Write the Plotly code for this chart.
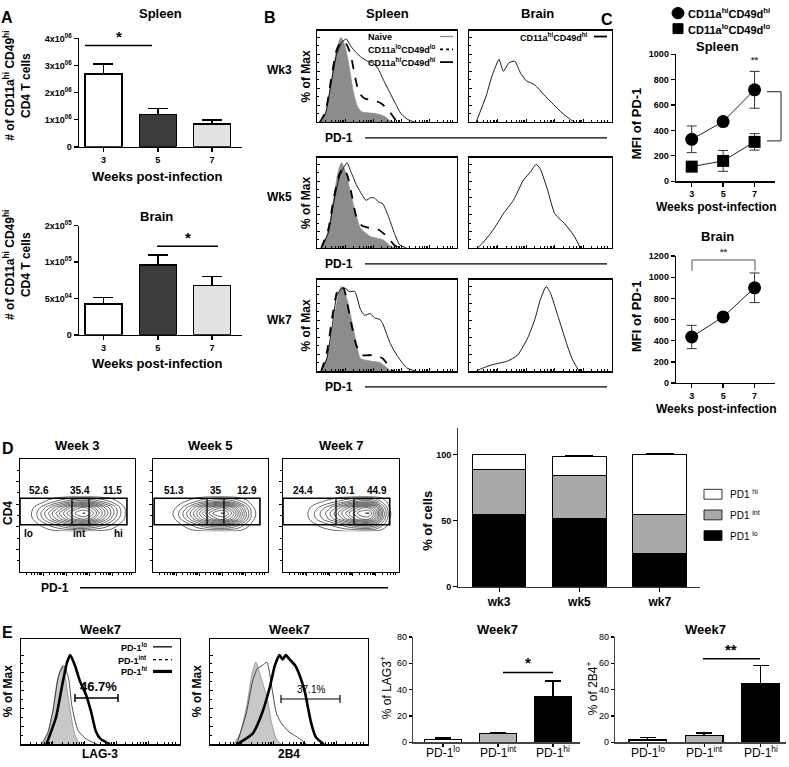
import plotly.graph_objects as go

W, H = 789, 767
FONT = "Liberation Sans, Arial, Helvetica, sans-serif"
NARROW = "Liberation Sans Narrow, Liberation Sans, Arial, sans-serif"

# ---------------- DATA ----------------
# Panel A
A_WEEKS = ["3", "5", "7"]
A_SPLEEN = [2.69e6, 1.20e6, 0.84e6]
A_SPLEEN_ERR = [0.36e6, 0.22e6, 0.14e6]
A_SPLEEN_TICKS = [0, 1e6, 2e6, 3e6, 4e6]
A_SPLEEN_TICKTEXT = ["0", "1x10<sup>06</sup>", "2x10<sup>06</sup>", "3x10<sup>06</sup>", "4x10<sup>06</sup>"]
A_BRAIN = [4.2e4, 9.6e4, 6.8e4]          # read on the lower (linear) segment of the axis
A_BRAIN_ERR = [0.9e4, 1.36e4, 1.17e4]
A_BRAIN_TICKS = [0, 5e4, 1e5, 1.5e5]
A_BRAIN_TICKTEXT = ["0", "5x10<sup>04</sup>", "1x10<sup>05</sup>", "2x10<sup>05</sup>"]
A_COLORS = ["white", "#3c3c3c", "#e2e2e2"]

# Panel B histograms (x = fraction of the PD-1 axis, y = % of max)
B_GRAY = [
    ([0.02, 0.06, 0.10, 0.14, 0.17, 0.20, 0.23, 0.26, 0.29, 0.32, 0.36, 0.42, 0.48, 0.52, 0.56],
     [0, 10, 45, 85, 100, 90, 65, 35, 18, 12, 11, 10, 7, 2, 0]),
    ([0.03, 0.08, 0.12, 0.15, 0.175, 0.20, 0.22, 0.27, 0.31, 0.38, 0.47, 0.53, 0.57],
     [0, 20, 60, 90, 102, 92, 80, 45, 24, 14, 10, 2, 0]),
    ([0.03, 0.08, 0.12, 0.15, 0.175, 0.20, 0.22, 0.27, 0.31, 0.38, 0.45, 0.50, 0.53],
     [0, 20, 58, 88, 100, 92, 81, 42, 15, 12, 10, 4, 0]),
]
B_LO = [
    ([0.02, 0.06, 0.10, 0.14, 0.18, 0.21, 0.24, 0.27, 0.30, 0.34, 0.40, 0.46, 0.52, 0.56, 0.60],
     [0, 12, 50, 85, 96, 92, 80, 55, 35, 28, 26, 22, 12, 3, 0]),
    ([0.03, 0.08, 0.12, 0.16, 0.19, 0.22, 0.25, 0.28, 0.32, 0.38, 0.44, 0.50, 0.55, 0.59],
     [0, 22, 60, 88, 96, 85, 62, 38, 27, 24, 22, 14, 4, 0]),
    ([0.03, 0.07, 0.11, 0.14, 0.165, 0.19, 0.235, 0.28, 0.32, 0.40, 0.47, 0.52, 0.55],
     [0, 22, 65, 92, 100, 98, 64, 31, 19, 19, 15, 4, 0]),
]
B_HI = [
    ([0.02, 0.06, 0.10, 0.14, 0.18, 0.21, 0.24, 0.28, 0.32, 0.36, 0.40, 0.44, 0.48, 0.52, 0.56, 0.60, 0.65, 0.70],
     [0, 10, 45, 80, 95, 98, 90, 82, 76, 72, 70, 62, 48, 35, 22, 10, 3, 0]),
    ([0.03, 0.08, 0.12, 0.16, 0.19, 0.215, 0.24, 0.26, 0.28, 0.31, 0.35, 0.38, 0.41, 0.44, 0.47, 0.51, 0.55, 0.59, 0.64],
     [0, 18, 55, 85, 96, 102, 92, 84, 76, 67, 57, 60, 60, 55, 53, 38, 19, 4, 0]),
    ([0.03, 0.07, 0.11, 0.14, 0.17, 0.20, 0.23, 0.27, 0.31, 0.34, 0.38, 0.41, 0.45, 0.47, 0.52, 0.57, 0.64, 0.71],
     [0, 15, 55, 88, 97, 98, 94, 94, 73, 66, 68, 63, 61, 56, 34, 19, 4, 0]),
]
B_BRAIN = [
    ([0.05, 0.12, 0.16, 0.21, 0.24, 0.28, 0.32, 0.36, 0.40, 0.46, 0.52, 0.59, 0.65, 0.71, 0.74],
     [0, 31, 54, 74, 60, 70, 72, 58, 49, 44, 33, 21, 11, 3, 0]),
    ([0.06, 0.12, 0.17, 0.24, 0.31, 0.38, 0.43, 0.47, 0.50, 0.55, 0.60, 0.67, 0.73, 0.78],
     [0, 11, 22, 41, 57, 81, 91, 100, 94, 69, 41, 29, 16, 0]),
    ([0.05, 0.10, 0.17, 0.27, 0.34, 0.41, 0.46, 0.50, 0.54, 0.57, 0.62, 0.68, 0.72, 0.77],
     [0, 4, 8, 12, 19, 39, 61, 85, 100, 92, 66, 34, 15, 0]),
]
B_ROWS = ["Wk3", "Wk5", "Wk7"]
FLOW_MAJOR = [0.2, 0.4, 0.6, 0.8]
FLOW_MINOR = [0.06, 0.1, 0.13, 0.15, 0.17, 0.18, 0.19, 0.26, 0.3, 0.33, 0.35, 0.37, 0.38, 0.39,
              0.46, 0.5, 0.53, 0.55, 0.57, 0.58, 0.59, 0.66, 0.7, 0.73, 0.75, 0.77, 0.78, 0.79,
              0.86, 0.9, 0.93, 0.95, 0.97]

# Panel C
C_WEEKS = [3, 5, 7]
C_SPL_HI = [330, 470, 720]
C_SPL_HI_ERR = [105, 30, 145]
C_SPL_LO = [115, 160, 310]
C_SPL_LO_ERR = [15, 82, 65]
C_BRAIN = [435, 625, 900]
C_BRAIN_ERR = [110, 12, 140]

# Panel D contours
D_TITLES = ["Week 3", "Week 5", "Week 7"]
D_PCT = [["52.6", "35.4", "11.5"], ["51.3", "35", "12.9"], ["24.4", "30.1", "44.9"]]
D_GRID_X = [0.02, 0.08, 0.14, 0.2, 0.26, 0.32, 0.38, 0.44, 0.5, 0.56, 0.62, 0.68, 0.74, 0.8, 0.86, 0.92, 0.98]
D_GRID_Y = [0.36, 0.42, 0.47, 0.52, 0.57, 0.62, 0.67]
D_Z = [
    [[0, 0, 0, 0, 0.2, 0.3, 0.4, 0.5, 0.5, 0.5, 0.4, 0.3, 0.2, 0.1, 0, 0, 0],
     [0, 0, 0.3, 0.8, 1.5, 2.2, 3, 3.8, 4.2, 4.2, 3.6, 2.8, 2, 1.2, 0.5, 0.1, 0],
     [0, 0.1, 0.9, 2, 3.2, 4.4, 5.6, 6.8, 7.8, 8.2, 7.2, 5.6, 4, 2.5, 1.2, 0.3, 0],
     [0, 0.2, 1.1, 2.4, 3.8, 5.2, 6.6, 8, 9.2, 9.6, 8.6, 6.8, 5, 3.2, 1.6, 0.4, 0],
     [0, 0.1, 0.7, 1.6, 2.7, 3.9, 5.1, 6.4, 7.6, 8, 7.2, 5.8, 4.2, 2.8, 1.4, 0.3, 0],
     [0, 0, 0.1, 0.4, 0.9, 1.5, 2.1, 2.8, 3.4, 3.6, 3.2, 2.5, 1.8, 1.1, 0.4, 0, 0],
     [0, 0, 0, 0, 0, 0.1, 0.2, 0.3, 0.4, 0.4, 0.3, 0.2, 0.1, 0, 0, 0, 0]],
    [[0, 0, 0, 0, 0, 0.2, 0.3, 0.4, 0.5, 0.5, 0.5, 0.4, 0.3, 0.1, 0, 0, 0],
     [0, 0, 0, 0.2, 0.6, 1.2, 2, 2.8, 3.6, 4, 4, 3.4, 2.4, 1.2, 0.3, 0, 0],
     [0, 0, 0, 0.6, 1.6, 2.8, 4.2, 5.6, 7, 8, 8.2, 7, 5, 2.8, 0.8, 0, 0],
     [0, 0, 0.1, 0.8, 2, 3.4, 5, 6.8, 8.4, 9.4, 9.6, 8.2, 5.8, 3.2, 1, 0.1, 0],
     [0, 0, 0, 0.5, 1.3, 2.4, 3.8, 5.2, 6.6, 7.6, 7.8, 6.6, 4.6, 2.5, 0.7, 0, 0],
     [0, 0, 0, 0.1, 0.4, 0.8, 1.4, 2, 2.6, 3, 3.1, 2.6, 1.8, 0.9, 0.2, 0, 0],
     [0, 0, 0, 0, 0, 0, 0.1, 0.2, 0.3, 0.3, 0.3, 0.2, 0.1, 0, 0, 0, 0]],
    [[0, 0, 0, 0, 0, 0.1, 0.2, 0.3, 0.4, 0.5, 0.5, 0.5, 0.4, 0.3, 0.1, 0, 0],
     [0, 0, 0, 0, 0.3, 0.7, 1.1, 1.6, 2.2, 2.9, 3.6, 4.2, 4.2, 3.2, 1.4, 0.2, 0],
     [0, 0, 0, 0.2, 0.9, 1.7, 2.6, 3.6, 4.8, 6, 7.2, 8.2, 8.2, 6.2, 2.8, 0.5, 0],
     [0, 0, 0, 0.3, 1.1, 2, 3, 4.2, 5.6, 7, 8.4, 9.4, 9.6, 7.4, 3.4, 0.6, 0],
     [0, 0, 0, 0.2, 0.7, 1.4, 2.2, 3.2, 4.4, 5.6, 6.8, 7.8, 7.8, 6, 2.6, 0.4, 0],
     [0, 0, 0, 0, 0.2, 0.4, 0.7, 1.1, 1.6, 2.2, 2.8, 3.3, 3.4, 2.5, 1, 0.1, 0],
     [0, 0, 0, 0, 0, 0, 0, 0.1, 0.2, 0.2, 0.3, 0.3, 0.3, 0.2, 0.1, 0, 0]],
]
D_GATE = [[0.0, 0.93, 0.452, 0.60], [0.01, 0.93, 0.47, 0.617], [0.0, 0.92, 0.457, 0.612]]

# Panel D stacked bars
D_WEEKS = ["wk3", "wk5", "wk7"]
D_LO = [54.5, 51.5, 25.4]
D_LO_ERR = [0.8, 0.6, 0.6]
D_INT = [34.3, 33.1, 29.1]
D_INT_ERR = [0.8, 2.5, 0.8]
D_HI = [11.2, 13.9, 45.7]
D_HI_ERR = [0.5, 0.6, 0.5]

# Panel E histograms
E_LAG3 = {
    "gray": ([0.14, 0.17, 0.20, 0.23, 0.26, 0.28, 0.31, 0.34, 0.37], [0, 12, 37, 73, 88, 73, 37, 10, 0]),
    "int": ([0.13, 0.17, 0.20, 0.24, 0.27, 0.30, 0.32, 0.36, 0.41, 0.48], [0, 14, 37, 79, 88, 73, 43, 15, 6, 0]),
    "hi": ([0.16, 0.22, 0.26, 0.29, 0.31, 0.34, 0.37, 0.41, 0.44, 0.47, 0.50, 0.56],
           [0, 30, 67, 92, 100, 88, 71, 55, 37, 15, 6, 0]),
}
E_2B4 = {
    "gray": ([0.15, 0.19, 0.23, 0.27, 0.29, 0.32, 0.36, 0.39, 0.42, 0.45], [0, 12, 41, 82, 92, 76, 53, 24, 6, 0]),
    "int": ([0.17, 0.23, 0.27, 0.30, 0.33, 0.36, 0.39, 0.42, 0.45, 0.50, 0.57, 0.61],
            [0, 35, 71, 85, 88, 92, 65, 35, 24, 14, 6, 0]),
    "hi": ([0.17, 0.27, 0.33, 0.38, 0.41, 0.44, 0.46, 0.48, 0.50, 0.54, 0.57, 0.60, 0.64, 0.67, 0.72],
           [0, 12, 35, 65, 88, 100, 95, 100, 96, 88, 76, 59, 24, 8, 0]),
}
# Panel E bars
E_CATS = ["PD-1<sup>lo</sup>", "PD-1<sup>int</sup>", "PD-1<sup>hi</sup>"]
E_LAG3_BAR = [2.3, 6.6, 34.4]
E_LAG3_ERR = [0.8, 1.0, 12.0]
E_2B4_BAR = [1.6, 5.0, 44.2]
E_2B4_ERR = [1.9, 2.2, 14.3]
E_COLORS = ["white", "#b4b4b4", "black"]

# ---------------- HELPERS ----------------
fig = go.Figure()
L = {}
ann = []
shp = []


def xn(n):
    return "x" if n == 1 else f"x{n}"


def yn(n):
    return "y" if n == 1 else f"y{n}"


def add_axes(n, box, xr, yr, xs, ys):
    x0, x1, y0, y1 = box
    L["xaxis" if n == 1 else f"xaxis{n}"] = dict(domain=[x0 / W, x1 / W], range=xr, anchor=yn(n), **xs)
    L["yaxis" if n == 1 else f"yaxis{n}"] = dict(domain=[1 - y1 / H, 1 - y0 / H], range=yr, anchor=xn(n), **ys)


def text(t, x, y, size=12, bold=True, angle=0, xa="center", ya="middle", family=FONT, color="black"):
    ann.append(dict(text=t, x=x / W, y=1 - y / H, xref="paper", yref="paper", showarrow=False,
                    xanchor=xa, yanchor=ya, textangle=angle,
                    font=dict(size=size, family=family, color=color, weight="bold" if bold else "normal")))


def pline(x0, y0, x1, y1, w=1.5, color="black", dash="solid"):
    shp.append(dict(type="line", xref="paper", yref="paper", x0=x0 / W, y0=1 - y0 / H, x1=x1 / W,
                    y1=1 - y1 / H, line=dict(color=color, width=w, dash=dash)))


def prect(x0, y0, x1, y1, fill, w=1):
    shp.append(dict(type="rect", xref="paper", yref="paper", x0=x0 / W, y0=1 - y1 / H, x1=x1 / W,
                    y1=1 - y0 / H, fillcolor=fill, line=dict(color="black", width=w)))


def gp_axis(size=9, bold=True, **kw):
    d = dict(showline=True, linecolor="black", linewidth=1.5, ticks="outside", ticklen=4, tickwidth=1.5,
             tickcolor="black", showgrid=False, zeroline=False, fixedrange=True,
             tickfont=dict(size=size, family=FONT, color="black", weight="bold" if bold else "normal"))
    d.update(kw)
    return d


def flow_axis(inside=True, **kw):
    d = dict(showline=True, mirror=True, linecolor="black", linewidth=1.3,
             ticks="inside" if inside else "outside", ticklen=3, tickwidth=1, tickcolor="black",
             showgrid=False, zeroline=False, showticklabels=False, fixedrange=True)
    d.update(kw)
    return d


def flow_x(inside=True):
    return flow_axis(inside, tickvals=FLOW_MAJOR,
                     minor=dict(tickvals=FLOW_MINOR, ticklen=2, ticks="inside" if inside else "outside",
                                tickcolor="black"))


def flow_y(inside=True, top=100):
    return flow_axis(inside, tickvals=[v for v in range(0, top + 1, 20)],
                     minor=dict(tickvals=[v for v in range(10, top, 20)], ticklen=2,
                                ticks="inside" if inside else "outside", tickcolor="black"))


def tr(n):
    return dict(xaxis=xn(n), yaxis=yn(n), showlegend=False, hoverinfo="skip")


# ---------------- PANEL A ----------------
text("A", 7, 11, 16)
a_boxes = [(1, (79, 242, 32, 142), A_SPLEEN, A_SPLEEN_ERR, [0, 4e6], A_SPLEEN_TICKS, A_SPLEEN_TICKTEXT),
           (2, (79, 242, 222, 333), A_BRAIN, A_BRAIN_ERR, [0, 1.5e5], A_BRAIN_TICKS, A_BRAIN_TICKTEXT)]
for n, box, vals, errs, yr, tv, tt in a_boxes:
    add_axes(n, box, [-0.45, 2.55], yr,
             gp_axis(type="category", size=9, tickfont=dict(size=9, family=FONT, color="black", weight="bold")),
             gp_axis(tickvals=tv, ticktext=tt))
    fig.add_trace(go.Bar(x=A_WEEKS, y=vals, width=0.68,
                         marker=dict(color=A_COLORS, line=dict(color="black", width=1.5)),
                         error_y=dict(type="data", array=errs, arrayminus=[0, 0, 0], symmetric=False,
                                      color="black", thickness=1.5, width=10), **tr(n)))
text("Spleen", 160, 7, 13)
text("Brain", 156, 213, 13)
text("Weeks post-infection", 157, 172, 13)
text("Weeks post-infection", 157, 362, 13)
for yc in (80, 262):
    text("# of CD11a<sup>hi</sup> CD49<sup>hi</sup><br>CD4 T cells", 17, yc, 12, angle=-90)
pline(85, 39, 152, 39, 1.5)
text("*", 119, 30, 15)
pline(157, 243, 218, 243, 1.5)
text("*", 188, 234, 15)

# ---------------- PANEL B ----------------
text("B", 270, 11, 16)
text("Spleen", 387, 7, 13)
text("Brain", 537, 7, 13)
b_rows = [(24, 117), (153, 245), (277, 370)]
for r, (y0, y1) in enumerate(b_rows):
    ns, nb = 3 + 2 * r, 4 + 2 * r
    add_axes(ns, (317, 457, y0, y1), [0, 1], [0, 108], flow_x(), flow_y())
    add_axes(nb, (469, 612, y0, y1), [0, 1], [0, 108], flow_x(), flow_y())
    gx, gy = B_GRAY[r]
    fig.add_trace(go.Scatter(x=gx, y=gy, mode="lines", fill="tozeroy", fillcolor="#8c8c8c",
                             line=dict(color="#8c8c8c", width=0.8, shape="spline", smoothing=0.6), **tr(ns)))
    lx, ly = B_LO[r]
    fig.add_trace(go.Scatter(x=lx, y=ly, mode="lines",
                             line=dict(color="black", width=1.8, dash="dash", shape="spline", smoothing=0.6),
                             **tr(ns)))
    hx, hy = B_HI[r]
    fig.add_trace(go.Scatter(x=hx, y=hy, mode="lines",
                             line=dict(color="black", width=0.9, shape="spline", smoothing=0.5), **tr(ns)))
    bx, by = B_BRAIN[r]
    fig.add_trace(go.Scatter(x=bx, y=by, mode="lines",
                             line=dict(color="black", width=0.9, shape="spline", smoothing=0.5), **tr(nb)))
    ym = (y0 + y1) / 2
    text(B_ROWS[r], 279, ym - 6, 12)
    text("% of Max", 306, ym, 12, angle=-90)
    text("PD-1", 339, y1 + 16, 12)
    pline(365, y1 + 16, 607, y1 + 16, 1.3)

# legends of B
leg = [("Naive", "#8c8c8c", "solid", 1.3, 30),
       ("CD11a<sup>lo</sup>CD49d<sup>lo</sup>", "black", "dash", 1.8, 43),
       ("CD11a<sup>hi</sup>CD49d<sup>hi</sup>", "black", "solid", 1.8, 56)]
for t, c, d, w, yy in leg:
    text(t, 366, yy, 9, xa="left")
    pline(440, yy, 453, yy, w, c, "dot" if d == "dash" else d)
text("CD11a<sup>hi</sup>CD49d<sup>hi</sup>", 590, 30, 9, xa="right")
pline(594, 30, 607, 30, 1.8)

# ---------------- PANEL C ----------------
text("C", 607, 13, 16)
shp.append(dict(type="circle", xref="paper", yref="paper", x0=672 / W, x1=684 / W, y0=1 - 12 / H,
                y1=1 - 0.5 / H, fillcolor="black", line=dict(color="black", width=1)))
prect(673, 17, 683, 27, "black")
text("CD11a<sup>hi</sup>CD49d<sup>hi</sup>", 686, 6, 11, xa="left")
text("CD11a<sup>lo</sup>CD49d<sup>lo</sup>", 686, 22, 11, xa="left")

c_x = lambda: gp_axis(tickvals=C_WEEKS, ticktext=[str(w) for w in C_WEEKS], linewidth=1.3, tickwidth=1.3)
add_axes(9, (676, 775, 48, 177), [2, 8.3], [0, 1000], c_x(),
         gp_axis(tickvals=[0, 200, 400, 600, 800, 1000], linewidth=1.3, tickwidth=1.3))
add_axes(10, (676, 775, 253, 382), [2, 8.3], [0, 1200], c_x(),
         gp_axis(tickvals=[0, 200, 400, 600, 800, 1000, 1200], linewidth=1.3, tickwidth=1.3))
for n, vals, errs, sym, size in [(9, C_SPL_HI, C_SPL_HI_ERR, "circle", 13), (9, C_SPL_LO, C_SPL_LO_ERR, "square", 12),
                                 (10, C_BRAIN, C_BRAIN_ERR, "circle", 13)]:
    fig.add_trace(go.Scatter(x=C_WEEKS, y=vals, mode="lines+markers",
                             line=dict(color="#222", width=1),
                             marker=dict(symbol=sym, size=size, color="black"),
                             error_y=dict(type="data", array=errs, color="#333", thickness=1, width=5),
                             cliponaxis=False, **tr(n)))
text("Spleen", 717, 40, 13)
text("Brain", 717, 233, 13)
text("Weeks post-infection", 716, 203, 12)
text("Weeks post-infection", 716, 408, 12)
text("MFI of PD-1", 636, 118, 13, angle=-90)
text("MFI of PD-1", 636, 314, 13, angle=-90)
text("**", 755, 54, 9, color="#444")
pline(767, 86, 781, 86, 1.2, "#444")
pline(781, 86, 781, 136, 1.2, "#444")
pline(767, 136, 781, 136, 1.2, "#444")
pline(692, 257, 755, 257, 1, "#555")
pline(692, 257, 692, 268, 1, "#555")
pline(755, 257, 755, 268, 1, "#555")
text("**", 724, 249, 9, color="#444")

# ---------------- PANEL D contours ----------------
text("D", 8, 449, 16)
d_boxes = [(20, 135), (153, 268), (283, 399)]
for i, (x0, x1) in enumerate(d_boxes):
    n = 11 + i
    add_axes(n, (x0, x1, 459, 574), [0, 1], [0, 1], flow_x(inside=False),
             flow_axis(False, tickvals=[0.2, 0.4, 0.6, 0.8], minor=dict(tickvals=[0.1, 0.3, 0.5, 0.7, 0.9],
                                                                           ticklen=2, ticks="outside")))
    fig.add_trace(go.Contour(x=D_GRID_X, y=D_GRID_Y, z=D_Z[i],
                             contours=dict(coloring="lines", start=0.5, end=9.5, size=0.75),
                             colorscale=[[0, "black"], [1, "black"]], showscale=False,
                             line=dict(width=0.6, smoothing=1.2), **tr(n)))
    g0, g1, d0, d1 = D_GATE[i]
    shp.append(dict(type="rect", xref=xn(n), yref=yn(n), x0=g0, x1=g1, y0=0.417, y1=0.652,
                    line=dict(color="black", width=1.6)))
    for dv in (d0, d1):
        shp.append(dict(type="line", xref=xn(n), yref=yn(n), x0=dv, x1=dv, y0=0.417, y1=0.652,
                        line=dict(color="black", width=1.3)))
    cx = [(g0 + d0) / 2 - 0.06, (d0 + d1) / 2, (d1 + g1) / 2 + 0.04]
    for k in range(3):
        ann.append(dict(text=D_PCT[i][k], x=cx[k], y=0.72, xref=xn(n), yref=yn(n), showarrow=False,
                        font=dict(size=10, family=FONT, color="black", weight="bold")))
    text(D_TITLES[i], (x0 + x1) / 2, 445, 13)
for t, xx in (("lo", 0.07), ("int", 0.52), ("hi", 0.86)):
    ann.append(dict(text=t, x=xx, y=0.34, xref="x11", yref="y11", showarrow=False,
                    font=dict(size=10, family=FONT, color="black", weight="bold")))
text("CD4", 8, 514, 12, angle=-90)
text("PD-1", 55, 590, 12)
pline(80, 590, 388, 590, 1.3)

# ---------------- PANEL D stacked ----------------
add_axes(14, (458, 700, 428, 589), [-0.51, 2.5], [0, 120],
         gp_axis(type="category", tickfont=dict(size=12, family=FONT, color="black", weight="bold"),
                 linewidth=1, tickwidth=1, linecolor="#333"),
         gp_axis(tickvals=[0, 50, 100], linewidth=1, tickwidth=1, linecolor="#333"))
for vals, errs, col in ((D_LO, D_LO_ERR, "black"), (D_INT, D_INT_ERR, "#a9a9a9"), (D_HI, D_HI_ERR, "white")):
    fig.add_trace(go.Bar(x=D_WEEKS, y=vals, width=0.67,
                         marker=dict(color=col, line=dict(color="black", width=1)),
                         error_y=dict(type="data", array=errs, arrayminus=[0, 0, 0], symmetric=False,
                                      color="black", thickness=1, width=14), **tr(14)))
text("% of cells", 428, 522, 13, angle=-90)
for lab, col, yy in (("PD1 <sup>hi</sup>", "white", 495), ("PD1 <sup>int</sup>", "#a9a9a9", 516),
                     ("PD1 <sup>lo</sup>", "black", 537)):
    prect(704, yy - 5, 722, yy + 5, col, 0.8)
    text(lab, 728, yy, 10, bold=False, xa="left")

# ---------------- PANEL E histograms ----------------
text("E", 8, 635, 16)
for n, (x0, x1), dat in ((15, (21, 180), E_LAG3), (16, (210, 368), E_2B4)):
    add_axes(n, (x0, x1, 642, 749), [0, 1], [0, 118], flow_x(), flow_y())
    gx, gy = dat["gray"]
    fig.add_trace(go.Scatter(x=gx, y=gy, mode="lines", fill="tozeroy", fillcolor="#c8c8c8",
                             line=dict(color="#8a8a8a", width=0.8, shape="spline", smoothing=0.6), **tr(n)))
    ix, iy = dat["int"]
    fig.add_trace(go.Scatter(x=ix, y=iy, mode="lines",
                             line=dict(color="#222", width=0.8, shape="spline", smoothing=0.6), **tr(n)))
    hx, hy = dat["hi"]
    fig.add_trace(go.Scatter(x=hx, y=hy, mode="lines",
                             line=dict(color="black", width=2.6, shape="spline", smoothing=0.5), **tr(n)))
    text("Week7", (x0 + x1) / 2, 632, 13, family=NARROW)
    text("% of Max", x0 - 13, 695, 12, angle=-90)
text("LAG-3", 100, 759, 12, family=NARROW)
text("2B4", 289, 759, 12, family=NARROW)
for t, d, w, yy in (("PD-1<sup>lo</sup>", "solid", 1.3, 650), ("PD-1<sup>int</sup>", "dot", 1.3, 663),
                    ("PD-1<sup>hi</sup>", "solid", 3.2, 675)):
    text(t, 149, yy, 9, xa="right", family=NARROW)
    pline(153, yy, 172, yy, w, "black", d)
# gate bars
pline(75, 702, 118, 702, 1.5)
pline(75, 698, 75, 706, 1.5)
pline(118, 698, 118, 706, 1.5)
text("46.7%", 98, 690, 13, family=NARROW)
pline(281, 703, 340, 703, 1.2)
pline(281, 699, 281, 707, 1.2)
pline(340, 699, 340, 707, 1.2)
text("37.1%", 311, 693, 10, bold=False, family=NARROW)

# ---------------- PANEL E bars ----------------
for n, box, vals, errs, xr, ylab, ylx, tcx in (
        (17, (413, 580, 640, 747), E_LAG3_BAR, E_LAG3_ERR, [-0.545, 2.49], "% of LAG3<sup>+</sup>", 386, 497),
        (18, (615, 786, 640, 747), E_2B4_BAR, E_2B4_ERR, [-0.58, 2.45], "% of 2B4<sup>+</sup>", 592, 705)):
    add_axes(n, box, xr, [0, 80],
             gp_axis(type="category", showticklabels=False, ticklen=3,
                     linewidth=1.2, tickwidth=1.2, linecolor="#444"),
             gp_axis(tickvals=[0, 20, 40, 60, 80], tickfont=dict(size=9, family=NARROW, color="black"),
                     ticklen=3, linewidth=1.2, tickwidth=1.2, linecolor="#444"))
    fig.add_trace(go.Bar(x=E_CATS, y=vals, width=0.67,
                         marker=dict(color=E_COLORS, line=dict(color="black", width=1.5)),
                         error_y=dict(type="data", array=errs, arrayminus=[0, 0, 0], symmetric=False,
                                      color="black", thickness=1.5, width=8), **tr(n)))
    for c in E_CATS:
        ann.append(dict(text=c, x=c, y=1 - 757 / H, xref=xn(n), yref="paper", showarrow=False,
                        yanchor="middle", font=dict(size=12, family=FONT, color="black")))
    text(ylab, ylx, 692, 12, bold=False, angle=-90)
    text("Week7", tcx, 632, 13, family=NARROW)
pline(503, 676, 553, 676, 1.5)
text("*", 528, 666, 15)
pline(703, 662, 760, 662, 1.5)
text("**", 731, 653, 15)

L.update(dict(width=W, height=H, margin=dict(l=0, r=0, t=0, b=0), paper_bgcolor="white",
              plot_bgcolor="rgba(0,0,0,0)", showlegend=False, barmode="stack", annotations=ann, shapes=shp,
              font=dict(family=FONT, color="black")))
fig.update_layout(**L)
fig.write_html("out.html", config={"displayModeBar": False, "staticPlot": True},
               post_script="document.body.style.margin='0';document.body.style.overflow='hidden';")
